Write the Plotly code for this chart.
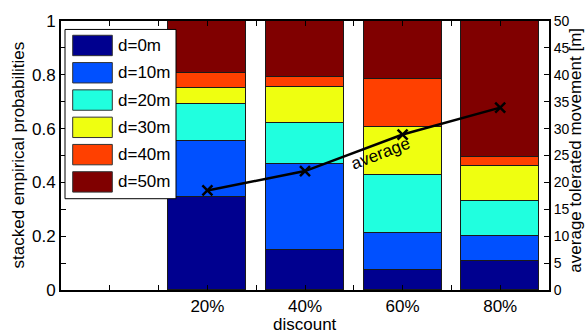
import plotly.graph_objects as go

# Discount levels on the x axis
discounts = [20, 40, 60, 80]
discount_labels = ["20%", "40%", "60%", "80%"]

# Stacked empirical probabilities for each tolerated distance
distance_labels = ["d=0m", "d=10m", "d=20m", "d=30m", "d=40m", "d=50m"]
p_d0 = [0.345, 0.148, 0.076, 0.107]
p_d10 = [0.210, 0.321, 0.137, 0.094]
p_d20 = [0.135, 0.153, 0.215, 0.130]
p_d30 = [0.060, 0.133, 0.177, 0.130]
p_d40 = [0.055, 0.037, 0.180, 0.035]
p_d50 = [0.195, 0.208, 0.215, 0.504]

# Average tolerated movement in metres (right axis)
avg_movement = [18.5, 22.1, 28.9, 33.9]

series = [p_d0, p_d10, p_d20, p_d30, p_d40, p_d50]
colors = ["#00008F", "#0050FF", "#20FFDF", "#EFFF10", "#FF4000", "#800000"]

FONT = "Liberation Sans, Arial, Helvetica, sans-serif"

fig = go.Figure()

for name, vals, col in zip(distance_labels, series, colors):
    fig.add_trace(go.Bar(
        x=discounts, y=vals, name=name, width=16,
        marker=dict(color=col, line=dict(color="#1a1a1a", width=1)),
        showlegend=False,
    ))

fig.add_trace(go.Scatter(
    x=discounts, y=avg_movement, yaxis="y2", mode="lines+markers",
    line=dict(color="black", width=2.5),
    marker=dict(symbol="x-thin", size=10, line=dict(color="black", width=2.5)),
    showlegend=False,
))

# Hand-drawn legend box with large colour swatches
L, R, T, B = 61, 549, 13, 290
W, H = R - L, B - T


def px(xp):
    return (xp - L) / W


def py(yp):
    return (B - yp) / H


shapes = [dict(type="rect", xref="paper", yref="paper",
               x0=px(65), x1=px(176), y0=py(196), y1=py(21.7),
               fillcolor="white", line=dict(color="black", width=1), layer="above")]
annotations = []
for i, (name, col) in enumerate(zip(distance_labels, colors)):
    top = 27.7 + i * 28.1
    shapes.append(dict(type="rect", xref="paper", yref="paper",
                       x0=px(72.7), x1=px(112.3), y0=py(top + 21), y1=py(top),
                       fillcolor=col, line=dict(color="#333333", width=1), layer="above"))
    annotations.append(dict(xref="paper", yref="paper", x=px(115.5), y=py(top + 10.5),
                            text=name, showarrow=False, xanchor="left", yanchor="middle",
                            font=dict(family=FONT, size=17, color="black")))

annotations += [
    dict(xref="paper", yref="paper", x=px(18), y=0.5, text="stacked empirical probabilities",
         textangle=-90, showarrow=False, xanchor="center", yanchor="middle",
         font=dict(family=FONT, size=17, color="black")),
    dict(xref="paper", yref="paper", x=px(576), y=py(146.5), text="average tolerated movement [m]",
         textangle=-90, showarrow=False, xanchor="center", yanchor="middle",
         font=dict(family=FONT, size=17, color="black")),
    dict(xref="paper", yref="paper", x=0.5, y=py(337), text="discount",
         showarrow=False, xanchor="center", yanchor="bottom",
         font=dict(family=FONT, size=17, color="black")),
    dict(xref="x", yref="y2", x=55.5, y=25.3, text="average", textangle=-21,
         showarrow=False, xanchor="center", yanchor="middle",
         font=dict(family=FONT, size=17, color="black")),
]

fig.update_layout(
    width=587, height=336, autosize=False,
    margin=dict(l=L, r=587 - R, t=T, b=336 - B, pad=0),
    barmode="stack", bargap=0,
    plot_bgcolor="white", paper_bgcolor="white",
    font=dict(family=FONT, size=17, color="black"),
    shapes=shapes, annotations=annotations,
    xaxis=dict(
        range=[-10, 90], tickvals=discounts, ticktext=discount_labels,
        ticks="inside", ticklen=5, tickwidth=1, tickcolor="black",
        minor=dict(dtick=10, tick0=0, ticks="inside", ticklen=5, tickcolor="black"),
        showline=True, linecolor="black", linewidth=2, mirror="ticks",
        showgrid=False, zeroline=False, tickfont=dict(size=17),
    ),
    yaxis=dict(
        range=[0, 1], dtick=0.2, tick0=0,
        ticks="inside", ticklen=5, tickwidth=1, tickcolor="black",
        minor=dict(dtick=0.1, ticks="inside", ticklen=5, tickcolor="black"),
        showline=True, linecolor="black", linewidth=2,
        showgrid=False, zeroline=False, tickfont=dict(size=17),
    ),
    yaxis2=dict(
        range=[0, 50], dtick=5, tick0=0, overlaying="y", side="right",
        ticks="inside", ticklen=5, tickwidth=1, tickcolor="black",
        showline=True, linecolor="black", linewidth=2,
        showgrid=False, zeroline=False, tickfont=dict(size=14),
    ),
)

fig.write_html("out.html")
